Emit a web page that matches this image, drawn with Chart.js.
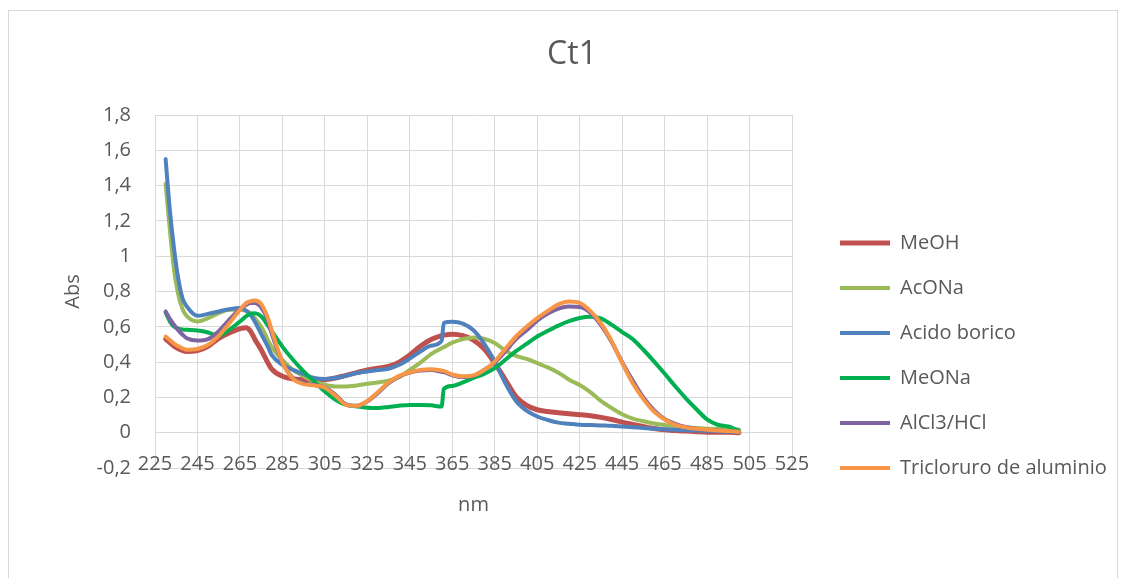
<!DOCTYPE html>
<html>
<head>
<meta charset="utf-8">
<title>Ct1</title>
<script src="https://cdn.jsdelivr.net/npm/chart.js@4.4.0/dist/chart.umd.min.js"></script>
<style>
  html, body { margin: 0; padding: 0; background: #fff; }
  #wrap { position: relative; width: 1125px; height: 578px; overflow: hidden; }
  #frame { position: absolute; left: 8px; top: 10px; width: 1108px; height: 600px; border: 1px solid #d9d9d9; pointer-events: none; }
</style>
</head>
<body>
<div id="wrap">
  <canvas id="chart-ct1" width="1125" height="578"></canvas>
  <div id="frame"></div>
</div>
<script>
// wavelengths (nm) shared by every series
const nm = [230, 232, 234, 236, 238, 240,
  245, 250, 255, 260, 265, 268, 270, 272, 275, 278, 280,
  285, 290, 295, 300, 305, 310, 315, 320, 325, 330, 335, 340, 345, 350, 355,
  360, 361,
  365, 370, 375, 380, 385, 390, 395, 400, 405, 410, 415, 420, 425, 430, 435, 440,
  445, 450, 455, 460, 465, 470, 475, 480, 485, 490, 495, 500];

const meoh = [0.53, 0.51, 0.49, 0.475, 0.465, 0.46,
  0.466, 0.49, 0.535, 0.565, 0.59, 0.595, 0.575, 0.53, 0.47, 0.40, 0.36,
  0.32, 0.305, 0.30, 0.296, 0.30, 0.31, 0.325, 0.34, 0.355, 0.365, 0.375, 0.40, 0.44, 0.49, 0.528,
  0.55, 0.553,
  0.558, 0.55, 0.525, 0.475, 0.394, 0.30, 0.205, 0.155, 0.13, 0.12, 0.113, 0.107, 0.102, 0.096, 0.087, 0.075,
  0.06, 0.047, 0.035, 0.024, 0.016, 0.012, 0.009, 0.006, 0.003, 0.002, 0.003, 0.0];

const acona = [1.41, 1.15, 0.92, 0.78, 0.70, 0.66,
  0.63, 0.649, 0.677, 0.696, 0.696, 0.69, 0.677, 0.65, 0.60, 0.53, 0.485,
  0.413, 0.356, 0.32, 0.29, 0.272, 0.262, 0.262, 0.268, 0.277, 0.285, 0.295, 0.315, 0.356, 0.397, 0.445,
  0.479, 0.485,
  0.51, 0.53, 0.54, 0.532, 0.508, 0.465, 0.435, 0.418, 0.394, 0.37, 0.34, 0.30, 0.27, 0.23, 0.18, 0.14,
  0.105, 0.08, 0.065, 0.052, 0.044, 0.036, 0.03, 0.026, 0.023, 0.021, 0.02, 0.018];

const acidoBorico = [1.55, 1.26, 1.04, 0.87, 0.76, 0.715,
  0.662, 0.673, 0.687, 0.70, 0.706, 0.69, 0.668, 0.63, 0.56, 0.49, 0.44,
  0.385, 0.356, 0.332, 0.31, 0.304, 0.31, 0.323, 0.338, 0.347, 0.355, 0.362, 0.385, 0.42, 0.46, 0.493,
  0.52, 0.622,
  0.628, 0.618, 0.58, 0.505, 0.403, 0.28, 0.18, 0.125, 0.092, 0.072, 0.057, 0.051, 0.045, 0.043, 0.041, 0.039,
  0.035, 0.031, 0.027, 0.023, 0.02, 0.017, 0.014, 0.012, 0.01, 0.008, 0.006, 0.003];

const meona = [0.68, 0.63, 0.60, 0.59, 0.585, 0.583,
  0.579, 0.568, 0.549, 0.583, 0.63, 0.66, 0.673, 0.677, 0.66, 0.61, 0.575,
  0.488, 0.413, 0.347, 0.29, 0.234, 0.187, 0.158, 0.149, 0.142, 0.14, 0.146, 0.153, 0.157, 0.157, 0.155,
  0.148, 0.248,
  0.265, 0.285, 0.31, 0.333, 0.366, 0.413, 0.462, 0.503, 0.545, 0.577, 0.607, 0.632, 0.65, 0.657, 0.648, 0.612,
  0.57, 0.53, 0.47, 0.404, 0.335, 0.263, 0.195, 0.133, 0.075, 0.045, 0.035, 0.01];

const alcl3Hcl = [0.687, 0.645, 0.61, 0.58, 0.555, 0.535,
  0.522, 0.53, 0.575, 0.64, 0.70, 0.725, 0.735, 0.735, 0.71, 0.64, 0.56,
  0.40, 0.31, 0.28, 0.27, 0.255, 0.215, 0.16, 0.152, 0.178, 0.225, 0.28, 0.318, 0.34, 0.352, 0.355,
  0.345, 0.343,
  0.325, 0.315, 0.322, 0.355, 0.398, 0.46, 0.53, 0.58, 0.635, 0.675, 0.703, 0.715, 0.712, 0.68, 0.61, 0.515,
  0.40, 0.295, 0.2, 0.128, 0.078, 0.05, 0.032, 0.022, 0.016, 0.012, 0.01, 0.006];

const tricloruro = [0.545, 0.525, 0.505, 0.49, 0.478, 0.47,
  0.474, 0.498, 0.549, 0.62, 0.696, 0.735, 0.745, 0.749, 0.73, 0.655, 0.58,
  0.40, 0.305, 0.275, 0.268, 0.255, 0.21, 0.158, 0.152, 0.18, 0.23, 0.285, 0.322, 0.342, 0.356, 0.36,
  0.352, 0.35,
  0.33, 0.32, 0.325, 0.355, 0.403, 0.475, 0.545, 0.60, 0.649, 0.69, 0.727, 0.743, 0.735, 0.69, 0.62, 0.52,
  0.395, 0.28, 0.19, 0.12, 0.075, 0.045, 0.03, 0.022, 0.017, 0.013, 0.01, 0.005];

const seriesNames = ['MeOH', 'AcONa', 'Acido borico', 'MeONa', 'AlCl3/HCl', 'Tricloruro de aluminio'];
const seriesValues = [meoh, acona, acidoBorico, meona, alcl3Hcl, tricloruro];
const seriesColors = ['#C0504D', '#9BBB59', '#4F81BD', '#00B050', '#8064A2', '#F79646'];
const seriesWidths = [5, 4, 4, 4, 4, 4];

Chart.defaults.font.family = "'Open Sans', sans-serif";
Chart.defaults.color = '#595959';

const datasets = seriesNames.map((name, i) => ({
  label: name,
  data: nm.map((x, j) => ({ x: x, y: seriesValues[i][j] })),
  borderColor: seriesColors[i],
  backgroundColor: seriesColors[i],
  borderWidth: seriesWidths[i],
  borderCapStyle: 'round',
  borderJoinStyle: 'round',
  pointRadius: 0,
  cubicInterpolationMode: 'monotone',
  fill: false,
  order: seriesNames.length - i // last series drawn on top, like excel
}));

// the layout caps side boxes at a quarter of the width, the legend needs more
const legendWidth = 305;
const legendBox = {
  id: 'legendBox',
  beforeUpdate(chart) {
    const legend = chart.legend;
    if (legend && !legend.fitPatched) {
      const fit = legend.fit;
      legend.fit = function () {
        fit.call(this);
        this.width = legendWidth;
      };
      legend.fitPatched = true;
    }
  }
};

const ctx = document.getElementById('chart-ct1').getContext('2d');

const myChart = new Chart(ctx, {
  type: 'line',
  data: { datasets: datasets },
  plugins: [legendBox],
  options: {
    responsive: false,
    animation: false,
    layout: { padding: { left: 24, right: 5, top: 0, bottom: 0 } },
    plugins: {
      title: {
        display: true,
        text: 'Ct1',
        color: '#595959',
        font: { size: 32, weight: 'normal' },
        padding: { top: 36, bottom: 40.6 }
      },
      legend: {
        position: 'right',
        align: 'start',
        // empty title only pushes the items down
        title: { display: true, text: '', font: { size: 10 }, padding: { top: 0, bottom: 196 } },
        labels: {
          usePointStyle: true,
          pointStyle: 'line',
          pointStyleWidth: 50,
          color: '#595959',
          font: { size: 20 },
          padding: 25,
          sort: (a, b) => a.datasetIndex - b.datasetIndex
        }
      },
      tooltip: { enabled: false }
    },
    scales: {
      x: {
        type: 'linear',
        min: 225,
        max: 525,
        ticks: { stepSize: 20, autoSkip: false, maxRotation: 0, font: { size: 20 }, mirror: true, padding: -8 },
        grid: { color: '#d9d9d9', drawTicks: false },
        border: { display: false },
        title: { display: true, text: 'nm', font: { size: 20 }, padding: { top: 0, bottom: 61 } },
        afterFit: s => { s.height = 110; }
      },
      y: {
        min: -0.2,
        max: 1.8,
        ticks: {
          stepSize: 0.2,
          font: { size: 20 },
          padding: 24,
          callback: v => String(Math.round(v * 10) / 10).replace('.', ',')
        },
        grid: { color: '#d9d9d9', drawTicks: false },
        border: { display: false },
        title: { display: true, text: 'Abs', font: { size: 20 }, padding: { top: 37, bottom: 10 } },
        afterFit: s => { s.width = 131; }
      },
      // spacer between plot and legend
      gap: {
        type: 'linear',
        position: 'right',
        min: 0,
        max: 1,
        ticks: { display: false },
        grid: { display: false },
        border: { display: false },
        afterFit: s => { s.width = 23; }
      }
    }
  }
});
</script>
</body>
</html>
